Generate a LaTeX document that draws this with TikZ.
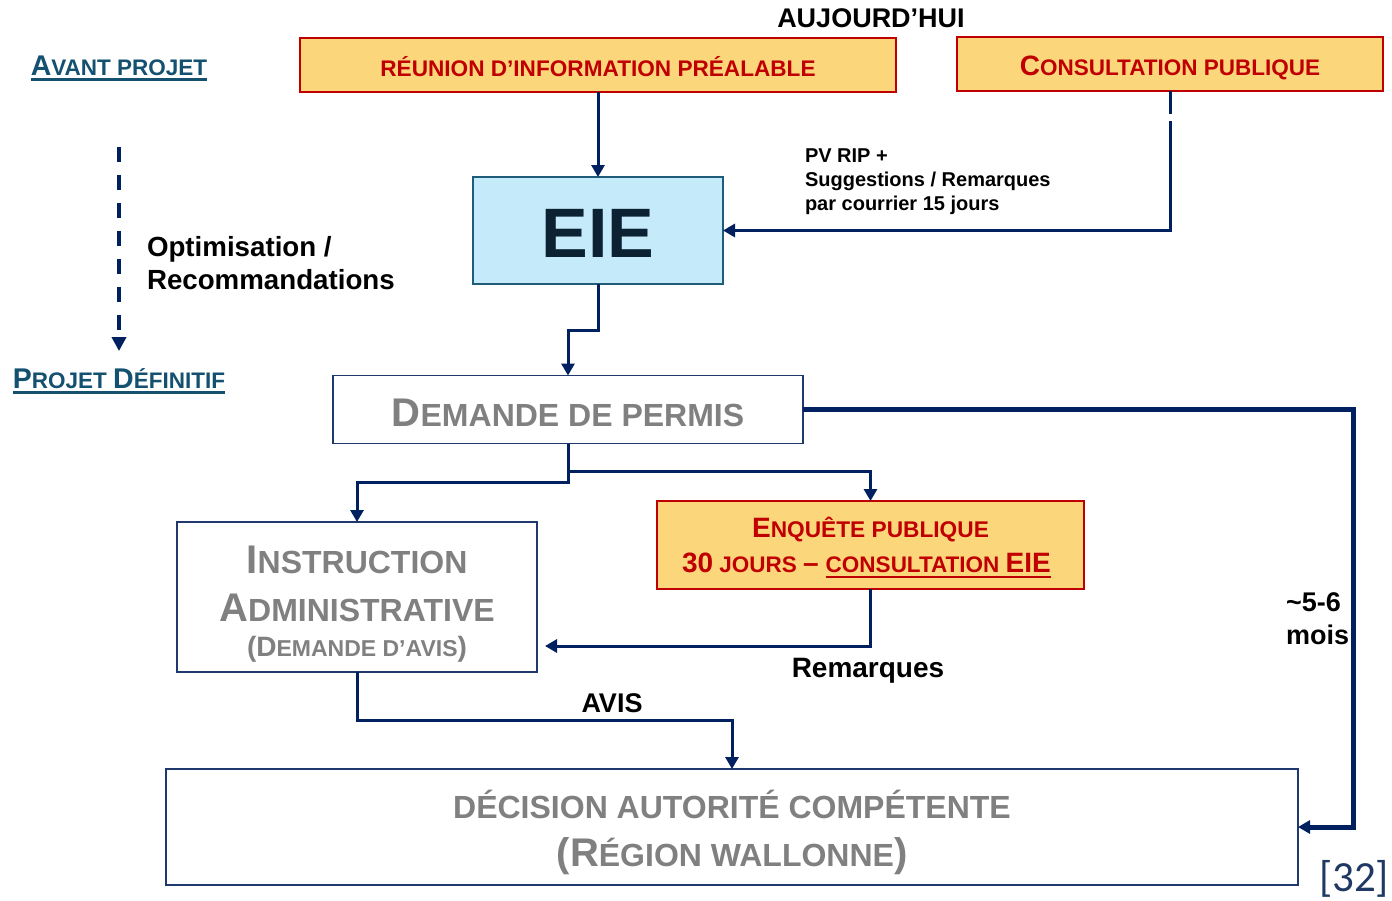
\documentclass[tikz,border=0pt]{standalone}
\usepackage{fontspec}
\setmainfont{Liberation Sans}
\newfontfamily\carlito{Carlito}
\usetikzlibrary{arrows.meta,calc}
\definecolor{navy}{RGB}{0,32,96}
\definecolor{boxred}{RGB}{192,0,0}
\definecolor{boxfill}{RGB}{252,214,122}
\definecolor{eiefill}{RGB}{197,235,251}
\definecolor{eieline}{RGB}{31,92,122}
\definecolor{eietext}{RGB}{12,34,51}
\definecolor{graytext}{RGB}{128,128,128}
\definecolor{teallabel}{RGB}{20,80,112}
\definecolor{boxline}{RGB}{31,56,110}
\definecolor{refblue}{RGB}{31,56,100}
\newcommand\fsz[1]{\fontsize{#1}{#1}\selectfont}
\begin{document}
\begin{tikzpicture}[x=1pt,y=-1pt,
  every node/.style={inner sep=0pt, outer sep=0pt, font=\bfseries},
  orangebox/.style={draw=boxred, fill=boxfill, line width=2pt, text=boxred},
  whitebox/.style={draw=boxline, fill=white, line width=1.8pt},
  graytxt/.style={text=graytext},
  redtxt/.style={text=boxred},
  conn/.style={draw=navy, line width=3pt, -{Triangle[width=13pt,length=12pt]}},
  uline/.style={line width=2.5pt},
]
\fill[white] (0,0) rectangle (1392,900);
\useasboundingbox (0,0) rectangle (1392,900);

% boxes
\node[orangebox, minimum width=596pt, minimum height=54pt, text height=22pt, text depth=0pt] (rip) at (598,65)
  {\fsz{22.6}RÉUNION D’INFORMATION PRÉALABLE};
\node[orangebox, minimum width=426pt, minimum height=54pt, text height=22pt, text depth=0pt] (cp) at (1170,64)
  {{\fsz{28}C}{\fsz{22.5}ONSULTATION PUBLIQUE}};
\node[draw=eieline, fill=eiefill, line width=2pt, minimum width=250pt, minimum height=107pt,
      text=eietext, text height=53pt, text depth=0pt] (eie) at (598,230.5) {\fsz{70}EIE};
\node[whitebox, minimum width=470pt, minimum height=68pt, text=graytext, text height=34pt, text depth=0pt] (dem) at (568,409.5)
  {{\fsz{40}D}{\fsz{32}EMANDE DE PERMIS}};

\node[whitebox, minimum width=360pt, minimum height=150pt] (instr) at (357,597) {};
\node[graytxt, anchor=base] (instr1) at (357,573) {{\fsz{40}I}{\fsz{32}NSTRUCTION}};
\node[graytxt, anchor=base] (instr2) at (357,621) {{\fsz{40}A}{\fsz{32}DMINISTRATIVE}};
\node[graytxt, anchor=base] (instr3) at (357,656) {{\fsz{28}(D}{\fsz{23}EMANDE D’AVIS}{\fsz{28})}};

\node[orangebox, minimum width=427pt, minimum height=88pt] (enq) at (870.5,545) {};
\node[redtxt, anchor=base] (enq1) at (870.5,537) {{\fsz{28}E}{\fsz{22.7}NQUÊTE PUBLIQUE}};
\node[redtxt, anchor=base west] (enq2) at (682,572) {{\fsz{28}30}{\fsz{22.5} JOURS }{\fsz{28}–}};
\node[redtxt, anchor=base west] (enq3) at ([xshift=7pt]enq2.base east) {{\fsz{22.5}CONSULTATION }{\fsz{28}EIE}};
\draw[boxred, uline] ([yshift=-5pt]enq3.base west) -- ([yshift=-5pt]enq3.base east);

\node[whitebox, minimum width=1132pt, minimum height=116pt] (dec) at (732,827) {};
\node[graytxt, anchor=base] (dec1) at (732,818) {\fsz{32}DÉCISION AUTORITÉ COMPÉTENTE};
\node[graytxt, anchor=base] (dec2) at (732,866) {{\fsz{40}(R}{\fsz{32}ÉGION WALLONNE}{\fsz{40})}};

% labels
\node[anchor=base] (auj) at (871,27) {\fsz{27}AUJOURD’HUI};
\node[text=teallabel, anchor=base] (av) at (119,75) {{\fsz{28.5}A}{\fsz{22.5}VANT PROJET}};
\draw[teallabel, uline] ([yshift=-4.5pt]av.base west) -- ([yshift=-4.5pt]av.base east);
\node[text=teallabel, anchor=base] (pd) at (119,388) {{\fsz{28.5}P}{\fsz{22.5}ROJET }{\fsz{28.5}D}{\fsz{22.5}ÉFINITIF}};
\draw[teallabel, uline] ([yshift=-4.5pt]pd.base west) -- ([yshift=-4.5pt]pd.base east);
\node[anchor=base west] (opt1) at (147,256) {\fsz{27.7}Optimisation /};
\node[anchor=base west] (opt2) at (147,289) {\fsz{27.7}Recommandations};
\node[anchor=base west] (pv1) at (805,162) {\fsz{20}PV RIP +};
\node[anchor=base west] (pv2) at (805,186) {\fsz{20}Suggestions / Remarques};
\node[anchor=base west] (pv3) at (805,210) {\fsz{20}par courrier 15 jours};
\node[anchor=base] (rem) at (868,677) {\fsz{28}Remarques};
\node[anchor=base] (avis) at (612,712) {\fsz{27}AVIS};
\node[anchor=base west] (mo1) at (1286,611) {\fsz{27}\textasciitilde 5-6};
\node[anchor=base west] (mo2) at (1286,644) {\fsz{27}mois};
\node[text=refblue, anchor=base east] (ref) at (1389,891) {\carlito\mdseries\fsz{43}[32]};

% connectors
\draw[conn] (rip.south) -- (eie.north);
\draw[navy, line width=3pt] (cp.south) -- ++(0,23);
\draw[conn] ([yshift=-30pt]cp.south) |- (eie.east);
\draw[conn] (eie.south) -- ++(0,46) -| (dem.north);
\draw[conn, line width=5pt] (dem.east) -- ++(550,0) |- (dec.east);
\draw[conn] (dem.south) -- ++(0,39) -| (instr.north);
\draw[conn] (dem.south) -- ++(0,28) -| (enq.north);
\draw[conn, shorten >=8pt] (enq.south) |- ([yshift=-49pt]instr.east);
\draw[conn] (instr.south) -- ++(0,48) -| (dec.north);
\draw[navy, line width=4pt, dash pattern=on 15pt off 13pt, shorten <=72pt, shorten >=17pt,
      -{Triangle[width=14pt,length=14pt]}] (av.south) -- (pd.north);
\end{tikzpicture}
\end{document}
